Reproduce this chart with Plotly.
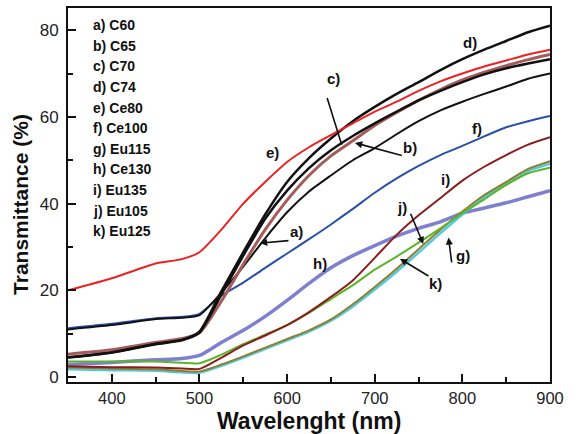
import plotly.graph_objects as go

wavelength = [350, 400, 450, 480, 500, 525, 550, 575, 600, 625, 650, 675, 700,
              725, 750, 775, 800, 825, 850, 875, 900]

a_C60 = [11.0, 12.0, 13.4, 13.7, 14.3, 19.5, 25.5, 32.0, 38.0, 42.8, 46.5, 50.0, 52.8,
         56.0, 59.0, 61.5, 63.5, 65.3, 67.0, 68.8, 70.0]
b_C65 = [5.3, 6.3, 8.0, 8.9, 10.2, 17.5, 26.0, 34.0, 40.8, 46.5, 51.0, 54.5, 58.0,
         61.0, 63.8, 66.3, 68.5, 70.3, 71.8, 73.2, 74.4]
c_C70 = [4.6, 5.7, 7.6, 8.5, 10.3, 19.0, 28.0, 36.5, 43.0, 48.2, 52.3, 55.6, 58.5,
         61.2, 63.8, 66.0, 68.0, 69.8, 71.2, 72.3, 73.3]
d_C74 = [4.5, 5.7, 7.7, 8.6, 10.5, 19.8, 28.8, 37.5, 45.0, 50.5, 55.0, 59.0, 62.3,
         65.3, 68.0, 70.8, 73.3, 75.5, 77.5, 79.5, 81.0]
e_Ce80 = [20.0, 22.8, 26.2, 27.2, 28.8, 34.0, 40.0, 45.0, 49.6, 53.0, 55.8, 58.5, 61.2,
          63.5, 66.0, 68.2, 70.0, 71.6, 73.0, 74.4, 75.5]
f_Ce100 = [11.3, 12.3, 13.6, 13.9, 14.6, 18.8, 21.8, 25.2, 28.5, 31.8, 35.2, 38.8, 42.5,
           45.8, 48.7, 51.2, 53.3, 55.5, 57.6, 59.0, 60.2]
g_Eu115 = [1.8, 1.6, 1.5, 1.1, 1.0, 2.6, 4.5, 6.5, 8.5, 10.5, 13.0, 16.3, 20.2,
           24.3, 28.7, 33.2, 37.5, 41.5, 44.5, 47.5, 49.2]
h_Ce130 = [2.9, 3.4, 4.0, 4.3, 5.0, 8.0, 10.8, 14.0, 17.7, 21.6, 25.2, 28.0, 30.3,
           32.5, 34.3, 35.8, 37.8, 39.0, 40.2, 41.6, 43.0]
i_Eu135 = [2.5, 2.3, 2.2, 2.0, 1.9, 4.5, 7.3, 9.6, 12.0, 15.0, 18.5, 22.3, 27.5,
           32.8, 37.3, 41.3, 45.3, 48.5, 51.2, 53.6, 55.3]
j_Eu105 = [3.6, 3.6, 3.6, 3.3, 3.2, 5.2, 7.6, 9.8, 12.0, 14.8, 18.0, 21.2, 24.8,
           27.8, 31.0, 34.3, 37.8, 41.0, 44.3, 47.0, 48.3]
k_Eu125 = [2.2, 2.0, 1.8, 1.4, 1.3, 2.9, 4.8, 6.8, 8.8, 10.8, 13.3, 16.8, 20.8,
           25.0, 29.5, 34.0, 38.2, 42.0, 45.0, 48.0, 49.8]

legend_lines = ["a) C60", "b) C65", "c) C70", "d) C74", "e) Ce80", "f) Ce100",
                "g) Eu115", "h) Ce130", "i) Eu135", "j) Eu105", "k) Eu125"]

series = [
    ("h) Ce130", h_Ce130, "#7f7fcf", 3.5),
    ("g) Eu115", g_Eu115, "#55c8e0", 2.5),
    ("k) Eu125", k_Eu125, "#8d7f2c", 2),
    ("j) Eu105", j_Eu105, "#5ab52a", 2),
    ("i) Eu135", i_Eu135, "#8b1c1c", 2),
    ("f) Ce100", f_Ce100, "#2a4fa8", 2),
    ("a) C60", a_C60, "#111111", 2),
    ("b) C65", b_C65, "#a65b5b", 3),
    ("c) C70", c_C70, "#111111", 2.5),
    ("d) C74", d_C74, "#111111", 2.5),
    ("e) Ce80", e_Ce80, "#ee2222", 2),
]

fig = go.Figure()
for name, vals, color, w in series:
    fig.add_trace(go.Scatter(x=wavelength, y=vals, mode="lines", name=name,
                             line=dict(color=color, width=w, shape="spline", smoothing=0.6)))

FONT = "Liberation Sans, Arial, sans-serif"
annotations = []

# legend-like text block
for i, t in enumerate(legend_lines):
    ypx = 23.3 + i * 20.7
    annotations.append(dict(x=(91 - 68) / 482, y=(382 - ypx) / 376, xref="paper", yref="paper",
                            text="<b>%s</b>" % t, showarrow=False, xanchor="left", yanchor="middle",
                            font=dict(family=FONT, size=14, color="#111")))

# curve labels
label_text = ["d)", "c)", "e)", "b)", "f)", "i)", "a)", "h)", "j)", "k)", "g)"]
label_x = [808.7, 652.7, 583.0, 740.2, 816.3, 781.3, 611.0, 637.5, 730.8, 768.8, 801.0]
label_y = [77.1, 68.9, 51.7, 52.9, 57.4, 45.6, 33.6, 26.1, 39.1, 21.6, 28.0]
for t, lx, ly in zip(label_text, label_x, label_y):
    annotations.append(dict(x=lx, y=ly, xref="x", yref="y", text="<b>%s</b>" % t, showarrow=False,
                            font=dict(family=FONT, size=15, color="#111")))

# pointer arrows
arrow_tail_x = [645.2, 732.6, 603.3, 740.2, 763.0, 788.0]
arrow_tail_y = [64.7, 51.0, 31.5, 38.0, 23.1, 26.1]
arrow_head_x = [662.3, 677.5, 569.1, 755.4, 728.8, 784.2]
arrow_head_y = [53.6, 54.0, 30.9, 30.7, 27.3, 32.2]
arrow_style = [0, 2, 2, 2, 2, 2]
for tx, ty, hx, hy, st in zip(arrow_tail_x, arrow_tail_y, arrow_head_x, arrow_head_y, arrow_style):
    annotations.append(dict(x=hx, y=hy, ax=tx, ay=ty, xref="x", yref="y", axref="x", ayref="y",
                            text="", showarrow=True, arrowhead=st, arrowsize=0.9, arrowwidth=1.6,
                            arrowcolor="#111", standoff=0, startstandoff=0))

# axis titles
annotations.append(dict(x=(309 - 68) / 482, y=(382 - 421) / 376, xref="paper", yref="paper",
                        text="<b>Wavelenght (nm)</b>", showarrow=False, xanchor="center", yanchor="middle",
                        font=dict(family=FONT, size=23, color="#111")))
annotations.append(dict(x=(21 - 68) / 482, y=(382 - 204) / 376, xref="paper", yref="paper",
                        text="<b>Transmittance (%)</b>", showarrow=False, textangle=-90,
                        xanchor="center", yanchor="middle",
                        font=dict(family=FONT, size=21, color="#111")))

axis_common = dict(showgrid=False, zeroline=False, showline=True, linecolor="#111", linewidth=1.8,
                   mirror=True, ticks="inside", ticklen=8, tickwidth=1.6, tickcolor="#111")

fig.update_xaxes(range=[350, 900], tick0=400, dtick=100, ticklabelstandoff=0,
                 tickfont=dict(family=FONT, size=16.5, color="#222"),
                 minor=dict(ticks="inside", dtick=50, tick0=350, ticklen=5, tickwidth=1.6, tickcolor="#111"),
                 **axis_common)
fig.update_yaxes(range=[-1.12, 85.1], tick0=0, dtick=20, ticklabelstandoff=4,
                 tickfont=dict(family=FONT, size=17, color="#222"),
                 minor=dict(ticks="inside", dtick=10, tick0=0, ticklen=5, tickwidth=1.6, tickcolor="#111"),
                 **axis_common)

fig.update_layout(width=583, height=434, margin=dict(l=68, r=33, t=6, b=52),
                  paper_bgcolor="white", plot_bgcolor="white", showlegend=False,
                  annotations=annotations, font=dict(family=FONT))

fig.write_html("out.html", config={"displayModeBar": False},
               post_script="document.body.style.margin='0';document.body.style.padding='0';")
